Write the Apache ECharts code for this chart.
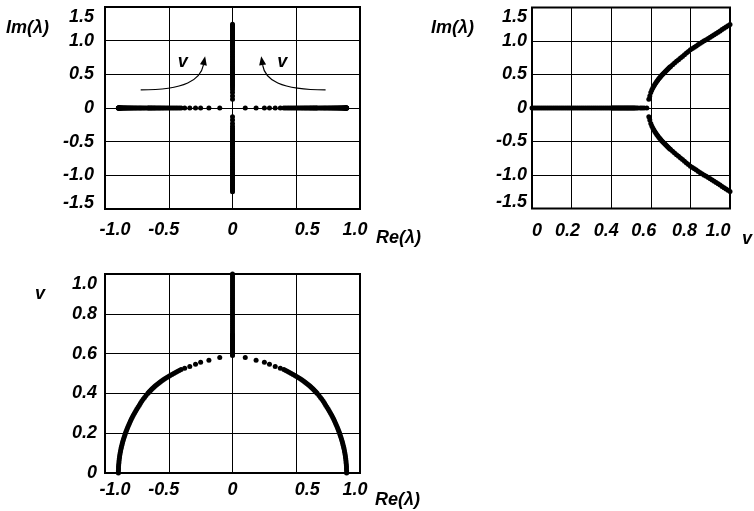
<!DOCTYPE html>
<html>
<head>
<meta charset="utf-8">
<script src="https://cdn.jsdelivr.net/npm/echarts@6/dist/echarts.min.js"></script>
<style>
  html, body { margin: 0; padding: 0; background: #fff; }
  #chart { width: 754px; height: 511px; }
</style>
</head>
<body>
<div id="chart"></div>
<script>
// Parameter values v on the real-root branch and the magnitude of the real roots ±Re(λ)
const nuReal = [
  0.00, 0.01, 0.02, 0.03, 0.04, 0.05, 0.06, 0.07, 0.08, 0.09,
  0.10, 0.11, 0.12, 0.13, 0.14, 0.15, 0.16, 0.17, 0.18, 0.19,
  0.20, 0.21, 0.22, 0.23, 0.24, 0.25, 0.26, 0.27, 0.28, 0.29,
  0.30, 0.31, 0.32, 0.33, 0.34, 0.35, 0.36, 0.37, 0.38, 0.39,
  0.400, 0.405, 0.410, 0.415, 0.420, 0.425, 0.430, 0.435, 0.440, 0.445,
  0.450, 0.455, 0.460, 0.465, 0.470, 0.475, 0.480, 0.485, 0.490, 0.495,
  0.500, 0.505, 0.510, 0.515, 0.520,
  0.527, 0.535, 0.547, 0.556, 0.566, 0.580
];
const reRoot = [
  0.895, 0.895, 0.894, 0.894, 0.893, 0.891, 0.890, 0.888, 0.886, 0.884,
  0.881, 0.878, 0.875, 0.872, 0.868, 0.864, 0.860, 0.855, 0.850, 0.845,
  0.840, 0.834, 0.828, 0.822, 0.815, 0.808, 0.801, 0.794, 0.786, 0.778,
  0.769, 0.760, 0.751, 0.741, 0.731, 0.722, 0.712, 0.701, 0.690, 0.678,
  0.665, 0.658, 0.651, 0.643, 0.636, 0.628, 0.619, 0.611, 0.602, 0.592,
  0.582, 0.572, 0.562, 0.551, 0.540, 0.528, 0.515, 0.502, 0.489, 0.475,
  0.461, 0.447, 0.433, 0.418, 0.403,
  0.375, 0.335, 0.290, 0.250, 0.185, 0.100
];

// Parameter values v on the imaginary-root branch and the magnitude ±Im(λ)
const nuImag = [
  0.590, 0.595, 0.600, 0.605, 0.610, 0.615, 0.620, 0.625, 0.630, 0.635,
  0.640, 0.645, 0.650, 0.655, 0.660, 0.665, 0.670, 0.675, 0.680, 0.685,
  0.690, 0.695, 0.700,
  0.71, 0.72, 0.73, 0.74, 0.75, 0.76, 0.77, 0.78, 0.79, 0.80,
  0.81, 0.82, 0.83, 0.84, 0.85, 0.86, 0.87, 0.88, 0.89, 0.90,
  0.91, 0.92, 0.93, 0.94, 0.95, 0.96, 0.97, 0.98, 0.99, 1.00
];
const imRoot = [
  0.130, 0.180, 0.230, 0.270, 0.300, 0.325, 0.350, 0.373, 0.395, 0.415,
  0.435, 0.453, 0.470, 0.488, 0.505, 0.520, 0.535, 0.550, 0.565, 0.579,
  0.593, 0.607, 0.620,
  0.646, 0.671, 0.696, 0.720, 0.745, 0.770, 0.795, 0.820, 0.844, 0.868,
  0.888, 0.908, 0.927, 0.946, 0.965, 0.984, 1.002, 1.020, 1.038, 1.056,
  1.075, 1.094, 1.113, 1.132, 1.151, 1.170, 1.189, 1.208, 1.227, 1.245
];

// Axis ranges and tick spacing
const reAxis = { min: -1.0, max: 1.0, interval: 0.5 };
const imAxis = { min: -1.5, max: 1.5, interval: 0.5 };
const nuAxis = { min: 0, max: 1.0, interval: 0.2 };

const FONT = '"Liberation Sans", Arial, sans-serif';
const FS = 18;
const tickFmt = v => (Math.abs(v) < 1e-9 ? '0' : v.toFixed(1));

// Point sets for the three panels
const p1 = [];
nuReal.forEach((v, i) => { p1.push([reRoot[i], 0]); p1.push([-reRoot[i], 0]); });
imRoot.forEach(m => { p1.push([0, m]); p1.push([0, -m]); });

const p2 = [];
nuReal.forEach(v => p2.push([v, 0]));
nuImag.forEach((v, i) => { p2.push([v, imRoot[i]]); p2.push([v, -imRoot[i]]); });

const p3 = [];
nuReal.forEach((v, i) => { p3.push([reRoot[i], v]); p3.push([-reRoot[i], v]); });
nuImag.forEach(v => p3.push([0, v]));

const labelBase = {
  color: '#000', fontFamily: FONT, fontSize: FS, fontWeight: 'bold', fontStyle: 'italic'
};
// y labels: the top (and lowest) label is nudged inside the frame
function yLabel(range, margin, nudgeBottom) {
  return Object.assign({}, labelBase, {
    margin: margin,
    formatter: v => {
      const s = tickFmt(v);
      if (Math.abs(v - range.max) < 1e-9) return '{top|' + s + '}';
      if (nudgeBottom && Math.abs(v - range.min) < 1e-9) return '{bot|' + s + '}';
      return s;
    },
    rich: {
      top: Object.assign({}, labelBase, { padding: [20, 0, 0, 0] }),
      bot: Object.assign({}, labelBase, { padding: [0, 0, 12, 0] })
    }
  });
}
// x labels with a small horizontal nudge per tick (pixels, + = right)
function xLabel(margin, nudges) {
  const rich = {};
  nudges.forEach((d, i) => {
    rich['n' + i] = Object.assign({}, labelBase, {
      padding: d >= 0 ? [0, 0, 0, 2 * d] : [0, -2 * d, 0, 0]
    });
  });
  return Object.assign({}, labelBase, {
    margin: margin,
    formatter: (v, idx) => '{n' + idx + '|' + tickFmt(v) + '}',
    rich: rich
  });
}
function makeAxis(range, gridIndex, label) {
  return {
    type: 'value', gridIndex: gridIndex,
    min: range.min, max: range.max, interval: range.interval,
    axisLine: { show: false }, axisTick: { show: false },
    splitLine: { show: true, lineStyle: { color: '#000', width: 1 } },
    axisLabel: label
  };
}
const gridStyle = { show: true, borderColor: '#000', borderWidth: 2, backgroundColor: 'transparent' };

function scatter(data, xi, yi) {
  return {
    type: 'scatter', xAxisIndex: xi, yAxisIndex: yi, data: data,
    symbolSize: 5, itemStyle: { color: '#000', opacity: 1 }, silent: true, z: 5
  };
}

const reNudge = [10, -5, 0, 11, -5];
const nuNudge = [5, -4, -5, -7, -6, -12];

const chart = echarts.init(document.getElementById('chart'), null, { renderer: 'canvas' });
chart.setOption({
  animation: false,
  backgroundColor: '#fff',
  grid: [
    Object.assign({ left: 105, top: 7, width: 255, height: 202 }, gridStyle),
    Object.assign({ left: 532, top: 7.5, width: 198, height: 201 }, gridStyle),
    Object.assign({ left: 105, top: 274, width: 255, height: 199 }, gridStyle)
  ],
  xAxis: [
    makeAxis(reAxis, 0, xLabel(12, reNudge)),
    makeAxis(nuAxis, 1, xLabel(14, nuNudge)),
    makeAxis(reAxis, 2, xLabel(8, reNudge))
  ],
  yAxis: [
    makeAxis(imAxis, 0, yLabel(imAxis, 11, true)),
    makeAxis(imAxis, 1, yLabel(imAxis, 5, true)),
    makeAxis(nuAxis, 2, yLabel(nuAxis, 8, false))
  ],
  series: [
    scatter(p1, 0, 0),
    scatter(p2, 1, 1),
    scatter(p3, 2, 2)
  ]
});

// Axis titles and the direction-of-increasing-v arrows in the root-locus panel
const txt = (x, y, s, align) => ({
  type: 'text', x: x, y: y, silent: true,
  style: { text: s, fill: '#000', font: 'italic bold ' + FS + 'px ' + FONT, align: align || 'left', verticalAlign: 'middle' }
});
const P = (re, im) => chart.convertToPixel({ gridIndex: 0 }, [re, im]);

function arrow(pts) {
  const [a, b, c, d] = pts.map(p => P(p[0], p[1]));
  const ang = Math.atan2(d[1] - c[1], d[0] - c[0]);
  const L = 9, W = 3.5;
  const bx = d[0] - L * Math.cos(ang), by = d[1] - L * Math.sin(ang);
  const nx = -Math.sin(ang), ny = Math.cos(ang);
  return [
    { type: 'bezierCurve', silent: true,
      shape: { x1: a[0], y1: a[1], cpx1: b[0], cpy1: b[1], cpx2: c[0], cpy2: c[1], x2: bx, y2: by },
      style: { stroke: '#000', lineWidth: 1.2, fill: null } },
    { type: 'polygon', silent: true,
      shape: { points: [[d[0], d[1]], [bx + nx * W, by + ny * W], [bx - nx * W, by - ny * W]] },
      style: { fill: '#000' } }
  ];
}

const vL = P(-0.39, 0.68), vR = P(0.39, 0.68);
chart.setOption({
  graphic: [
    txt(6, 28, 'Im(λ)'),
    txt(431, 28, 'Im(λ)'),
    txt(376, 238, 'Re(λ)'),
    txt(375, 500, 'Re(λ)'),
    txt(742, 239, 'v'),
    txt(35, 294, 'v'),
    txt(vL[0], vL[1], 'v', 'center'),
    txt(vR[0], vR[1], 'v', 'center')
  ]
    .concat(arrow([[-0.72, 0.27], [-0.37, 0.27], [-0.25, 0.42], [-0.215, 0.77]]))
    .concat(arrow([[0.73, 0.27], [0.37, 0.27], [0.255, 0.42], [0.225, 0.77]]))
});
</script>
</body>
</html>
